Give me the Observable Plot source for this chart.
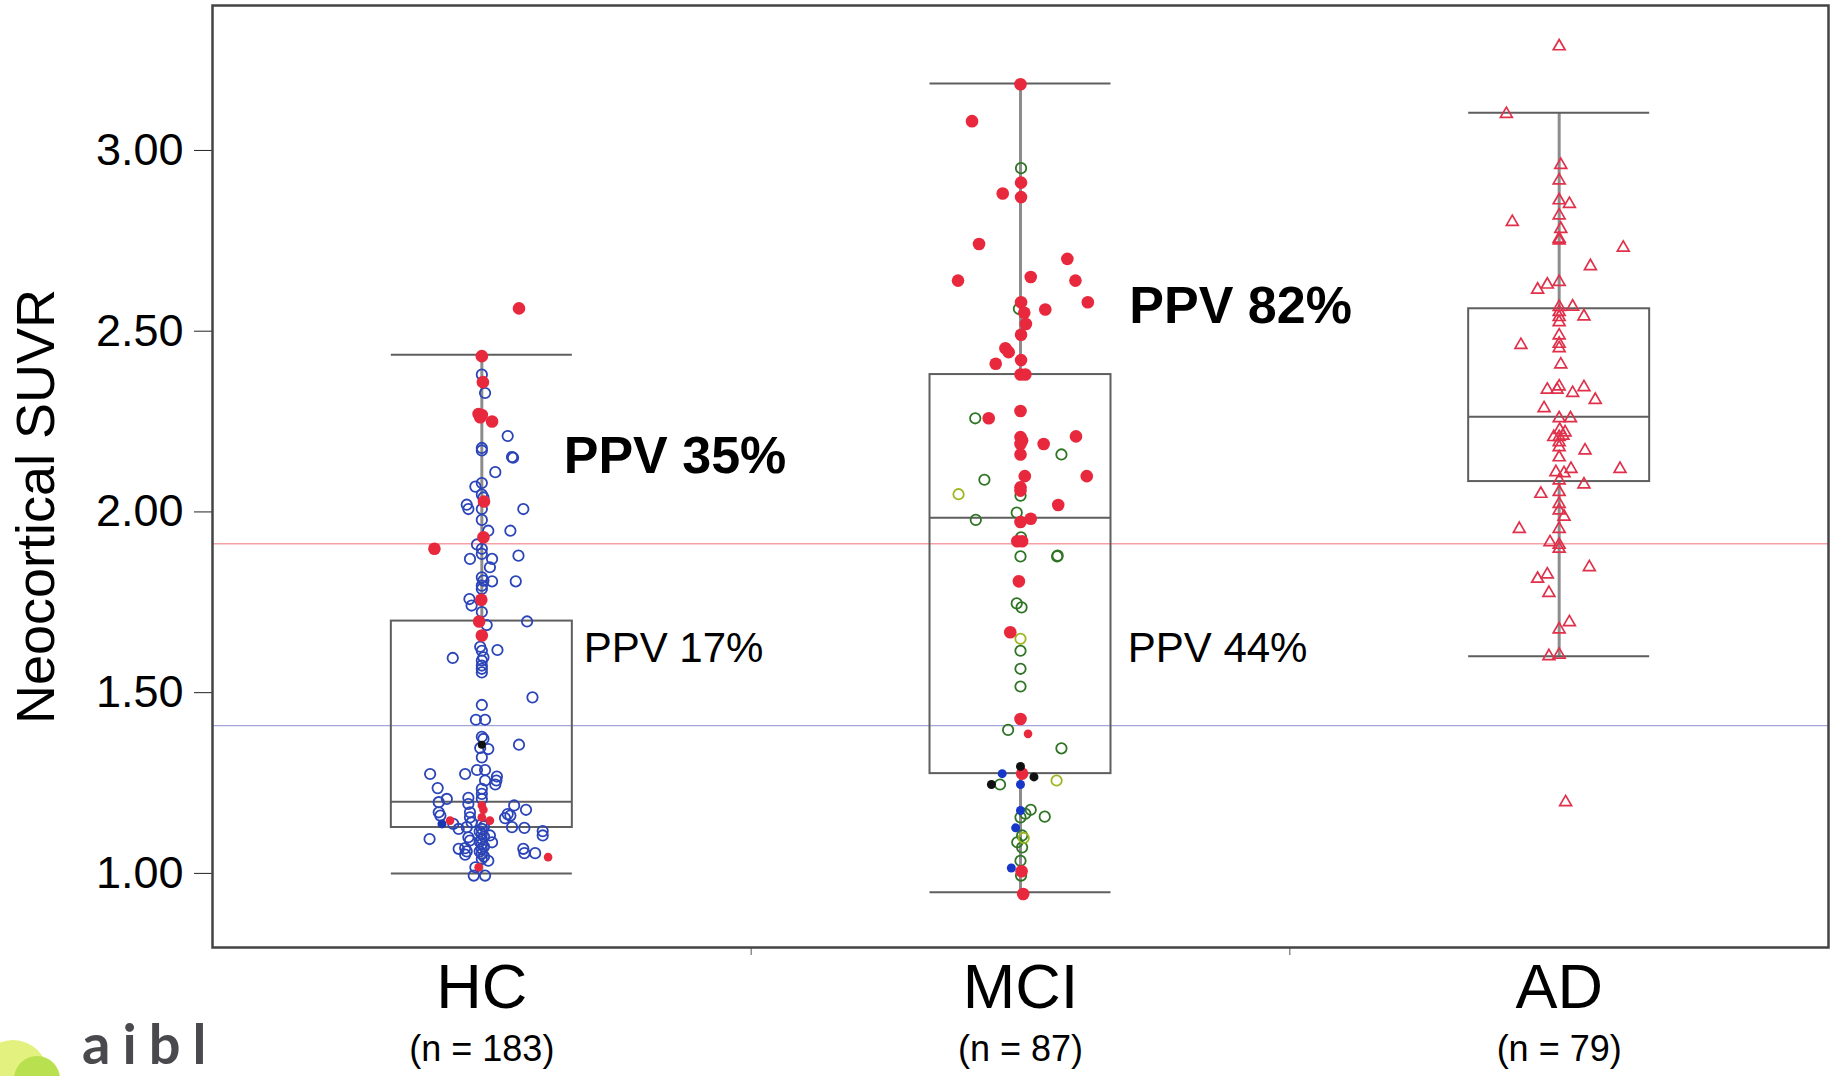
<!DOCTYPE html>
<html>
<head>
<meta charset="utf-8">
<script src="https://cdn.jsdelivr.net/npm/d3@7"></script>
<script src="https://cdn.jsdelivr.net/npm/@observablehq/plot@0.6"></script>
<style>
  html, body { margin: 0; padding: 0; background: #fff; overflow: hidden; }
  #wrap { position: relative; width: 1837px; height: 1076px; overflow: hidden; }
  #chart { position: absolute; left: 0; top: 0; }
  .blob { position: absolute; border-radius: 50%; }
  #logo { position: absolute; left: 82px; top: 1018px; height: 50px; font: 700 56px Lato, "Open Sans", sans-serif; line-height: 50px; color: #4a4a4e; letter-spacing: 12px; white-space: nowrap; }
</style>
</head>
<body>
<div id="wrap">
  <div id="chart"></div>
  <div class="blob" style="left:-22px;top:1040px;width:70px;height:70px;background:#e3f27e;"></div>
  <div class="blob" style="left:14px;top:1056px;width:46px;height:46px;background:#b9e04e;"></div>
  <div id="logo">aibl</div>
</div>
<script>
// ---------- data ----------
const categories = ["HC", "MCI", "AD"];
const groupN = [183, 87, 79];

// box plot summaries (Neocortical SUVR)
const whiskerLow  = [1.000, 0.948, 1.601];
const q1          = [1.127, 1.276, 2.084];
const median      = [1.198, 1.984, 2.263];
const q3          = [1.698, 2.380, 2.562];
const whiskerHigh = [2.435, 3.185, 3.104];

// cut-off reference lines
const cutoffHigh = 1.912;
const cutoffLow = 1.409;

// axis
const yTicks = [1, 1.5, 2, 2.5, 3];
const yTitle = "Neocortical SUVR";
const yTitleAt = 2.015;

// PPV annotations
const ppvText   = ["PPV 35%", "PPV 17%", "PPV 82%", "PPV 44%"];
const ppvGroup  = [0, 0, 1, 1];
const ppvShift  = [0.152, 0.189, 0.202, 0.199];
const ppvValue  = [2.153, 1.623, 2.568, 1.623];
const ppvBold   = [true, false, true, false];

// points: [SUVR, horizontal jitter in group widths]
const hcBlueOpen = [
  [2.380,0],[2.329,0.006],[2.210,0.048],[2.177,0],[2.170,0],[2.150,0.058],[2.152,0.056],[2.110,0.025],
  [2.080,0],[2.070,-0.012],[2.048,0],[2.040,0.003],[2.020,-0.028],[2.008,-0.025],[2.008,0],[2.008,0.077],
  [1.978,0],[1.948,0.012],[1.948,0.053],[1.910,-0.009],[1.898,0],[1.884,0],[1.879,0.068],[1.870,-0.022],[1.870,0.019],
  [1.847,0.015],[1.819,0],[1.810,0.003],[1.808,0.019],[1.808,0.063],[1.796,0],[1.787,0],[1.759,-0.023],[1.741,-0.019],
  [1.723,0],[1.687,0.009],[1.697,0.084],[1.627,-0.003],[1.616,0],[1.618,0.029],[1.596,-0.054],[1.598,0.003],
  [1.589,0],[1.575,0],[1.566,0],[1.556,0],[1.487,0.094],[1.466,0],[1.425,-0.011],[1.425,0.006],[1.378,0],
  [1.372,0.003],[1.347,-0.003],[1.344,0.012],[1.356,0.069],[1.321,0],
  [1.286,-0.009],[1.286,0.006],[1.275,-0.096],[1.275,-0.031],[1.268,0.028],[1.257,0.027],[1.246,0.025],[1.257,0.006],
  [1.236,-0.082],[1.234,0],[1.220,0],[1.206,-0.065],[1.197,-0.080],[1.209,-0.025],[1.192,-0.025],[1.206,0],
  [1.188,0.060],[1.176,0.082],[1.169,-0.080],[1.160,-0.077],[1.164,0.048],[1.160,0.053],[1.153,0.043],
  [1.169,-0.022],[1.155,-0.022],[1.141,-0.019],[1.137,-0.053],[1.123,-0.043],[1.137,0],[1.130,0.004],[1.123,0],
  [1.116,-0.004],[1.109,0],[1.102,0.004],[1.095,0],[1.088,-0.004],[1.081,0],[1.074,0.004],[1.068,0],[1.061,-0.004],
  [1.054,0],[1.047,0.004],[1.040,0],[1.128,-0.028],[1.100,-0.025],[1.091,-0.022],[1.105,0.015],[1.086,0.019],
  [1.128,0.056],[1.126,0.079],[1.117,0.113],[1.105,0.113],[1.095,-0.097],[1.068,-0.043],[1.070,-0.031],
  [1.061,-0.028],[1.052,-0.031],[1.068,0.077],[1.056,0.079],[1.056,0.099],[1.035,0.012],[1.017,-0.012],
  [0.994,-0.015],[0.994,0.006]
];
const hcBlueFilled = [[1.137,-0.074]];
const hcBlackFilled = [[1.356,0]];
const hcRed = [
  [2.563,0.069],[2.431,0],[2.359,0.002],[2.271,-0.006],[2.262,-0.003],[2.268,0],[2.250,0.019],
  [2.029,0.004],[1.930,0.003],[1.898,-0.088],[1.757,-0.001],[1.697,-0.005],[1.658,0]
];
const hcRedSmall = [[1.188,0],[1.176,0.003],[1.155,0],[1.146,0.015],[1.146,-0.059],[1.045,0.123],[1.017,-0.006]];

const mciRed = [
  [3.183,0],[3.081,-0.090],[2.911,0.001],[2.881,-0.033],[2.871,0.001],[2.741,-0.077],[2.700,0.087],
  [2.640,-0.116],[2.650,0.019],[2.640,0.102],[2.580,0.125],[2.580,0.001],[2.551,0.007],[2.560,0.046],
  [2.520,0.010],[2.490,0.001],[2.453,-0.028],[2.442,-0.022],[2.410,-0.046],[2.420,0.001],[2.380,0],
  [2.380,0.009],[2.279,0],[2.259,-0.059],[2.207,0],[2.198,0.003],[2.188,0],[2.188,0.043],[2.209,0.103],
  [2.159,0],[2.099,0.008],[2.099,0.123],[2.068,0],[2.059,0],[2.019,0.070],[1.972,0],[1.981,0.019],
  [1.919,-0.006],[1.919,0.003],[1.808,-0.003],[1.667,-0.019],[1.427,0],[1.276,0.003],[1.006,0.002],[0.943,0.005]
];
const mciRedSmall = [[1.386,0.014]];
const mciGreenOpen = [
  [2.951,0.001],[2.562,-0.003],[2.259,-0.084],[2.159,0.076],[2.089,-0.067],[2.045,0],[1.998,-0.007],
  [1.978,-0.083],[1.930,0.001],[1.877,0],[1.877,0.068],[1.879,0.069],[1.747,-0.007],[1.736,0.002],
  [1.616,0],[1.566,0],[1.517,0],[1.397,-0.023],[1.346,0.076],[1.246,-0.038],[1.176,0.019],[1.165,0.009],
  [1.155,0],[1.157,0.045],[1.105,0.003],[1.086,-0.006],[1.072,0.003],[1.035,0],[0.994,0.001]
];
const mciLimeOpen = [[2.049,-0.115],[1.649,0],[1.257,0.067],[1.098,0.006]];
const mciBlueFilled = [[1.276,-0.034],[1.246,0],[1.174,0],[1.126,-0.009],[1.015,-0.017]];
const mciBlackFilled = [[1.296,0],[1.267,0.025],[1.246,-0.054]];

const adTriangles = [
  [3.288,0],[3.101,-0.098],[2.960,0.003],[2.917,0],[2.862,0],[2.852,0.019],[2.820,0],[2.802,-0.087],
  [2.783,0.003],[2.756,0],[2.751,0],[2.731,0.119],[2.680,0.058],[2.636,0],[2.629,-0.022],[2.615,-0.040],
  [2.567,0],[2.568,0.025],[2.553,0],[2.539,0],[2.525,0],[2.541,0.046],[2.488,0],[2.462,-0.071],[2.465,0],
  [2.453,0],[2.408,0.003],[2.347,0],[2.338,-0.022],[2.338,-0.004],[2.329,0.025],[2.345,0.046],[2.310,0.067],
  [2.287,-0.028],[2.259,0],[2.259,0.021],[2.227,0.001],[2.220,0.011],[2.211,0.007],[2.207,0],[2.207,-0.010],
  [2.193,0],[2.179,0],[2.170,0.048],[2.151,0],[2.119,0.113],[2.119,0.022],[2.110,-0.006],[2.107,0.009],
  [2.087,0],[2.076,0.046],[2.050,-0.034],[2.055,0],[2.022,0],[2.004,0],[1.987,0.009],[1.953,-0.074],
  [1.953,0],[1.916,-0.017],[1.909,0],[1.898,0],[1.847,0.056],[1.827,-0.022],[1.815,-0.040],[1.776,-0.019],
  [1.695,0.019],[1.675,0],[1.601,-0.019],[1.605,0],[1.197,0.012]
];

// ---------- build ----------
const pts = (arr, g) => arr.map(([v, j]) => ({x: g + 0.5 + j, y: v}));
const boxes = categories.map((c, i) => ({c, x: i + 0.5, lo: whiskerLow[i], q1: q1[i], med: median[i], q3: q3[i], hi: whiskerHigh[i]}));
const hw = 0.168;
const ppv = ppvText.map((t, i) => ({t, x: ppvGroup[i] + 0.5 + ppvShift[i], y: ppvValue[i], bold: ppvBold[i]}));

const RED = "#e8283c";
const boxStroke = "#5e5e5e";

const chart = Plot.plot({
  width: 1837,
  height: 1076,
  marginLeft: 212,
  marginRight: 9,
  marginTop: 5,
  marginBottom: 129,
  style: {fontFamily: "'Liberation Sans', Arial, sans-serif", background: "#fff", color: "#000"},
  x: {domain: [0, 3], axis: null},
  y: {domain: [0.795, 3.401], axis: null},
  marks: [
    Plot.ruleY([cutoffHigh], {stroke: "#f4a0a6", strokeWidth: 1.3}),
    Plot.ruleY([cutoffLow], {stroke: "#a4a4dc", strokeWidth: 1.3}),
    Plot.ruleX(boxes, {x: "x", y1: "lo", y2: "q1", stroke: "#8c8c8c", strokeWidth: 3}),
    Plot.ruleX(boxes, {x: "x", y1: "q3", y2: "hi", stroke: "#8c8c8c", strokeWidth: 3}),
    Plot.rect(boxes, {x1: d => d.x - hw, x2: d => d.x + hw, y1: "q1", y2: "q3", fill: "none", stroke: boxStroke, strokeWidth: 2}),
    Plot.ruleY(boxes, {y: "med", x1: d => d.x - hw, x2: d => d.x + hw, stroke: boxStroke, strokeWidth: 2}),
    Plot.ruleY(boxes, {y: "lo", x1: d => d.x - hw, x2: d => d.x + hw, stroke: boxStroke, strokeWidth: 2}),
    Plot.ruleY(boxes, {y: "hi", x1: d => d.x - hw, x2: d => d.x + hw, stroke: boxStroke, strokeWidth: 2}),
    // HC
    Plot.dot(pts(hcBlueOpen, 0), {x: "x", y: "y", r: 5.2, stroke: "#2b44b8", strokeWidth: 1.8, fill: "none"}),
    Plot.dot(pts(hcBlueFilled, 0), {x: "x", y: "y", r: 4.5, fill: "#1a35b0"}),
    Plot.dot(pts(hcBlackFilled, 0), {x: "x", y: "y", r: 4, fill: "#111"}),
    Plot.dot(pts(hcRed, 0), {x: "x", y: "y", r: 6.3, fill: RED}),
    Plot.dot(pts(hcRedSmall, 0), {x: "x", y: "y", r: 4.3, fill: RED}),
    // MCI
    Plot.dot(pts(mciGreenOpen, 1), {x: "x", y: "y", r: 5.2, stroke: "#2f7424", strokeWidth: 1.8, fill: "none"}),
    Plot.dot(pts(mciLimeOpen, 1), {x: "x", y: "y", r: 5.2, stroke: "#9cb820", strokeWidth: 1.8, fill: "none"}),
    Plot.dot(pts(mciRed, 1), {x: "x", y: "y", r: 6.3, fill: RED}),
    Plot.dot(pts(mciRedSmall, 1), {x: "x", y: "y", r: 4.3, fill: RED}),
    Plot.dot(pts(mciBlueFilled, 1), {x: "x", y: "y", r: 4.5, fill: "#1637c8"}),
    Plot.dot(pts(mciBlackFilled, 1), {x: "x", y: "y", r: 4.5, fill: "#111"}),
    // AD
    Plot.dot(pts(adTriangles, 2), {x: "x", y: "y", symbol: "triangle", r: 4.4, stroke: "#e0304a", strokeWidth: 1.7, fill: "none"}),
    // annotations
    Plot.text(ppv.filter(d => d.bold), {x: "x", y: "y", text: "t", textAnchor: "start", fontSize: 52, fontWeight: "bold", fill: "#000"}),
    Plot.text(ppv.filter(d => !d.bold), {x: "x", y: "y", text: "t", textAnchor: "start", fontSize: 42, fill: "#000"}),
    // axes
    Plot.axisY({ticks: yTicks, tickFormat: d3.format(".2f"), tickSize: 18, tickPadding: 11, fontSize: 45, label: null, stroke: "#222"}),
    Plot.text([yTitle], {frameAnchor: "left", y: () => yTitleAt, text: d => d, rotate: -90, dx: -197, lineAnchor: "top", textAnchor: "middle", fontSize: 54, fill: "#000"}),
    Plot.axisX({ticks: [0.5, 1.5, 2.5], tickFormat: d => categories[Math.floor(d)], tickSize: 0, tickPadding: 16, fontSize: 63, label: null}),
    Plot.axisX({ticks: [1, 2], tickFormat: () => "", tickSize: 8, label: null, stroke: "#555"}),
    Plot.text(categories, {x: (d, i) => i + 0.5, text: (d, i) => `(n = ${groupN[i]})`, frameAnchor: "bottom", lineAnchor: "top", dy: 88, fontSize: 36, ariaLabel: "n-labels"}),
    Plot.frame({stroke: "#444", strokeWidth: 2.5})
  ]
});
document.getElementById("chart").appendChild(chart);

// italic n and counts, taller parentheses
d3.select(chart).selectAll('g[aria-label="n-labels"] text').each(function() {
  const s = this.textContent;
  const inner = s.slice(1, -1);
  const t = d3.select(this);
  t.text(null);
  t.append("tspan").attr("font-size", 42).text("(");
  t.append("tspan").attr("font-style", "italic").text(inner);
  t.append("tspan").attr("font-size", 42).text(")");
});
</script>
</body>
</html>
